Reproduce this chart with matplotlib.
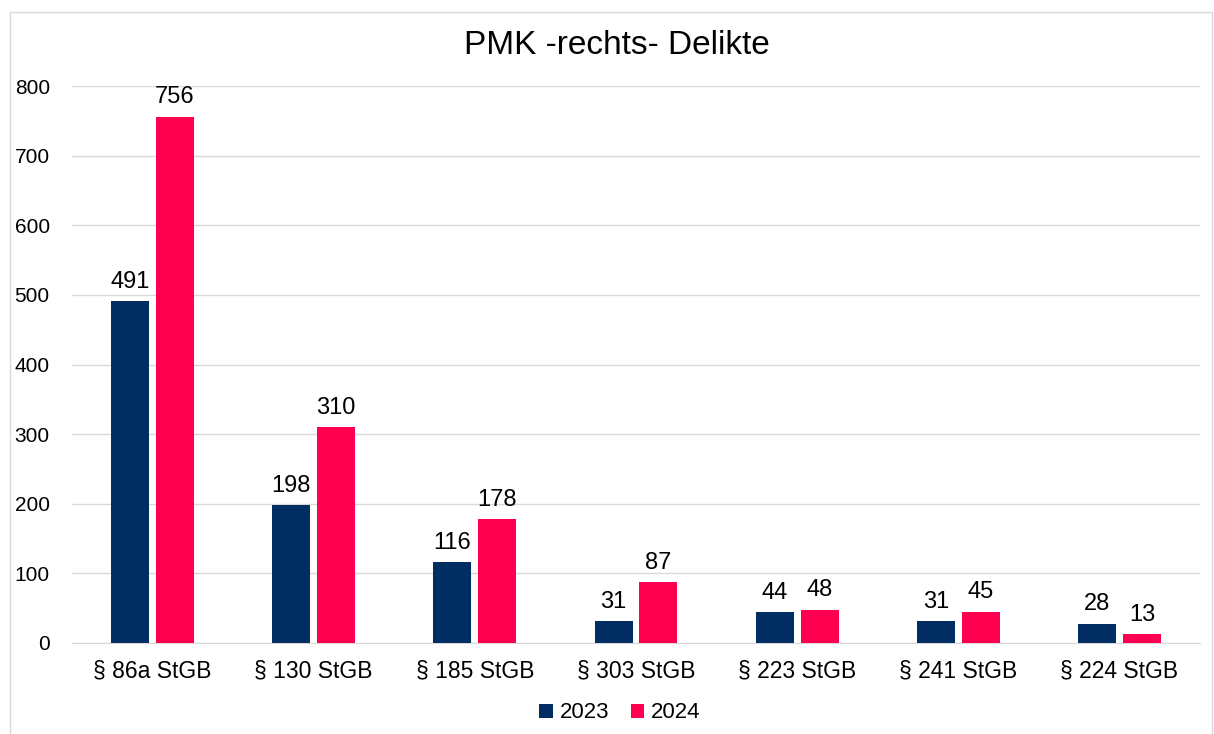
import matplotlib.pyplot as plt
import numpy as np
from matplotlib.patches import Rectangle

plt.rcParams['font.family'] = ['Liberation Sans', 'DejaVu Sans']

categories = ["§ 86a StGB", "§ 130 StGB", "§ 185 StGB", "§ 303 StGB",
              "§ 223 StGB", "§ 241 StGB", "§ 224 StGB"]
vals_2023 = [491, 198, 116, 31, 44, 31, 28]
vals_2024 = [756, 310, 178, 87, 48, 45, 13]
yticks = [0, 100, 200, 300, 400, 500, 600, 700, 800]

navy = "#002d62"
red = "#ff0050"

fig = plt.figure(figsize=(12.14, 7.34), dpi=100)
fig.patches.append(Rectangle((10/1214, -0.01), 1202/1214, 1 - 12/734 + 0.01,
                             transform=fig.transFigure, fill=False,
                             edgecolor="#d9d9d9", lw=1))
ax = fig.add_axes([72/1214, 1 - 643/734, 1128/1214, (643 - 86)/734])

x = np.arange(len(categories))
w = 0.236
gap = 0.043
b1 = ax.bar(x - (w + gap)/2, vals_2023, w, color=navy, label="2023", zorder=3)
b2 = ax.bar(x + (w + gap)/2, vals_2024, w, color=red, label="2024", zorder=3)
for bars in (b1, b2):
    ax.bar_label(bars, padding=6, fontsize=17)

ax.set_xlim(-0.5, len(categories) - 0.5)
ax.set_ylim(0, 800)
ax.set_yticks(yticks)
ax.set_xticks(x)
ax.set_xticklabels(categories)
ax.tick_params(axis='both', length=0)
ax.tick_params(axis='x', pad=12, labelsize=16.5)
ax.tick_params(axis='y', pad=16, labelsize=15)
ax.grid(axis='y', color="#d9d9d9", lw=1, zorder=0)
for s in ("top", "right", "left"):
    ax.spines[s].set_visible(False)
ax.spines["bottom"].set_color("#d9d9d9")

fig.text(617/1214, 1 - 45/734, "PMK -rechts- Delikte", fontsize=24,
         ha="center", va="center")

fig.legend(loc="center", bbox_to_anchor=(620/1214, 1 - 713/734), ncol=2,
           frameon=False, fontsize=16, handlelength=0.6, handleheight=0.6,
           handletextpad=0.3, columnspacing=1.0)

fig.savefig("out.png", dpi=100)
